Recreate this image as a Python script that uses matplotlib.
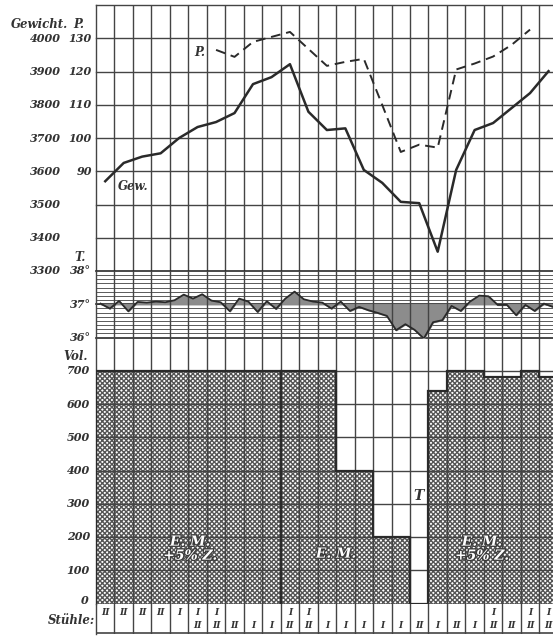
import numpy as np
import matplotlib
matplotlib.use("Agg")
import matplotlib.pyplot as plt
import matplotlib.transforms as mtransforms
import matplotlib.patheffects as pe

# one column per day
days = np.arange(25)

# body weight (g) and pulse (per minute)
weight = [3570, 3625, 3644, 3654, 3700, 3733, 3748, 3775, 3862, 3883, 3922, 3779, 3724,
          3729, 3604, 3565, 3508, 3504, 3358, 3604, 3724, 3745, 3790, 3835, 3901]
pulse_days = np.arange(6, 24)
pulse = [126.5, 124.4, 128.9, 130.4, 131.9, 126.8, 121.7, 122.9, 123.8, 109.9, 95.8,
         98.0, 97.1, 120.6, 122.4, 124.5, 128.0, 132.6]

# temperature, morning and evening
temp = [37.02, 36.87, 37.10, 36.79, 37.07, 37.05, 37.08, 37.06, 37.12, 37.29,
        37.17, 37.30, 37.11, 37.06, 36.79, 37.17, 37.08, 36.77, 37.09, 36.86,
        37.17, 37.38, 37.15, 37.08, 37.05, 36.87, 37.08, 36.80, 36.92, 36.82,
        36.74, 36.65, 36.22, 36.40, 36.23, 35.97, 36.46, 36.52, 36.95, 36.80,
        37.08, 37.26, 37.24, 36.98, 36.98, 36.67, 36.98, 36.80, 37.02, 36.92]

# daily food volume (ccm)
volume = [700, 700, 700, 700, 700, 700, 700, 700, 700, 700, 700, 700, 700,
          400, 400, 200, 200, 0, 640, 700, 700, 680, 680, 700, 680]

# stools per day (upper and lower entry in the row)
stool_top = ["II", "II", "II", "II", "I", "I", "I", "", "", "", "I", "I", "", "",
             "", "", "", "", "", "", "", "I", "", "I", "I"]
stool_bottom = ["", "", "", "", "", "II", "II", "II", "I", "I", "II", "II", "I", "I",
                "I", "I", "I", "II", "I", "II", "I", "II", "II", "II", "II"]

# feeding periods: label, start day, end day, label position (day, ccm)
periods = [("E. M.\n+5% Z.", 0, 10, 5.1, 165),
           ("E. M.", 10, 17, 13.0, 150),
           ("T", 17, 18, 17.45, 322),
           ("E. M.\n+5% Z.", 18, 25, 20.9, 165)]

W, H = 553, 636
fig = plt.figure(figsize=(W / 100, H / 100), dpi=100)
fig.patch.set_facecolor("white")

ink = "#2a2a2a"
grid = "#444444"
lab = dict(family="DejaVu Serif", style="italic", weight="bold", color="#333333")


def fy(py):
    return 1 - py / H


def fx(px):
    return px / W


left = 96
x_right = (W - left) / 18.47


def make_ax(top_px, bot_px):
    ax = fig.add_axes([fx(left), fy(bot_px), 1 - fx(left), (bot_px - top_px) / H])
    ax.set_xlim(0, x_right)
    ax.axis("off")
    for x in range(0, 25):
        ax.axvline(x, color=grid, lw=1.0, zorder=4, clip_on=(x != 0))
    return ax


# weight / pulse panel, values drawn at the middle of each day
ax_w = make_ax(5, 271)
ax_w.set_ylim(3300, 4100)
for v in range(3400, 4200, 100):
    ax_w.axhline(v, color=grid, lw=1.0, zorder=2, clip_on=False)
ax_w.plot(days + 0.5, weight, color=ink, lw=1.8, zorder=5, solid_joinstyle="round")
ax_p = ax_w.twinx()
ax_p.axis("off")
ax_p.set_ylim(60, 140)
ax_p.plot(pulse_days + 0.5, pulse, color=ink, lw=1.4, dashes=(5, 3), zorder=5)
ax_w.text(1.2, 3553, "Gew.", fontsize=8.5, ha="left", va="center", **lab)
ax_p.text(5.6, 125.6, "P.", fontsize=8.5, ha="center", va="center", **lab)

# temperature panel
ax_t = make_ax(271, 337.5)
ax_t.set_ylim(36, 38)
for v in np.arange(36.125, 38, 0.125):
    ax_t.axhline(v, color="#5a5a5a", lw=0.7, zorder=2)
for v in (36, 37, 38):
    ax_t.axhline(v, color=ink, lw=1.2, zorder=2, clip_on=False)
t_time = np.arange(len(temp)) / 2 + 0.25
ax_t.fill_between(t_time, temp, 37, color="#8c8c8c", interpolate=True, zorder=3)
ax_t.plot(t_time, temp, color=ink, lw=1.3, zorder=5)

# volume panel
ax_v = make_ax(337.5, 603.5)
ax_v.set_ylim(0, 800)
plt.rcParams["hatch.linewidth"] = 1.0
ax_v.bar(days, volume, width=1, align="edge", facecolor="white", edgecolor="#555555",
         linewidth=0, hatch="xxxxxxx", zorder=1)
ax_v.stairs(volume, np.arange(26), baseline=0, color=ink, lw=1.6, zorder=5)
for v in range(0, 800, 100):
    ax_v.axhline(v, color=grid, lw=1.0, zorder=4)
for name, d0, d1, xl, yl in periods:
    if d0 > 0 and volume[d0] and volume[d0 - 1]:
        ax_v.plot([d0, d0], [0, min(volume[d0], volume[d0 - 1])], color=ink, lw=1.6, zorder=5)
    txt = ax_v.text(xl, yl, name, fontsize=10, ha="center", va="center", linespacing=1.0,
                    family="DejaVu Serif", style="italic", weight="bold",
                    color="white" if name != "T" else "#333333", zorder=6)
    if name != "T":
        txt.set_path_effects([pe.withStroke(linewidth=1.8, foreground="#3a3a3a")])

# stool row
ax_s = make_ax(603.5, 634)
ax_s.set_ylim(0, 1)
ax_s.axhline(0.02, color=grid, lw=1.2, zorder=2)
for d in days:
    if stool_top[d]:
        ax_s.text(d + 0.5, 0.72, stool_top[d], fontsize=6.5, ha="center", va="center", **lab)
    if stool_bottom[d]:
        ax_s.text(d + 0.5, 0.28, stool_bottom[d], fontsize=6.5, ha="center", va="center", **lab)

# left-hand scale labels
tw = mtransforms.blended_transform_factory(fig.transFigure, ax_w.transData)
tp = mtransforms.blended_transform_factory(fig.transFigure, ax_p.transData)
tt = mtransforms.blended_transform_factory(fig.transFigure, ax_t.transData)
tv = mtransforms.blended_transform_factory(fig.transFigure, ax_v.transData)

for v in range(3300, 4100, 100):
    fig.text(fx(61), v, str(v), transform=tw, fontsize=8, ha="right", va="center", **lab)
for v in range(90, 140, 10):
    fig.text(fx(92), v, str(v), transform=tp, fontsize=8, ha="right", va="center", **lab)
for v in (36, 37, 38):
    fig.text(fx(91), v, f"{v}°", transform=tt, fontsize=8, ha="right", va="center", **lab)
for v in range(100, 800, 100):
    fig.text(fx(90), v, str(v), transform=tv, fontsize=8, ha="right", va="center", **lab)
fig.text(fx(89), fy(601), "0", fontsize=8, ha="right", va="center", **lab)

fig.text(fx(68), fy(24), "Gewicht.", fontsize=8.5, ha="right", va="center", **lab)
fig.text(fx(84), fy(24), "P.", fontsize=8.5, ha="right", va="center", **lab)
fig.text(fx(86), fy(257), "T.", fontsize=8.5, ha="right", va="center", **lab)
fig.text(fx(88), fy(356), "Vol.", fontsize=8.5, ha="right", va="center", **lab)
fig.text(fx(95), fy(621), "Stühle:", fontsize=8.5, ha="right", va="center", **lab)

fig.savefig("out.png", dpi=100, facecolor="white")
